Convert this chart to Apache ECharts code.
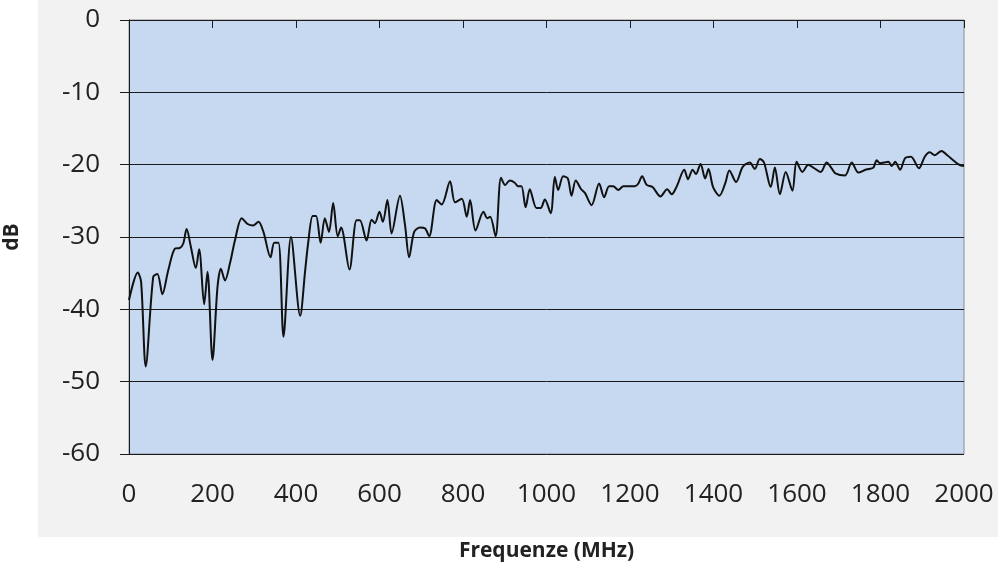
<!DOCTYPE html>
<html>
<head>
<meta charset="utf-8">
<script src="https://cdn.jsdelivr.net/npm/echarts@6/dist/echarts.min.js"></script>
<style>
  html, body { margin: 0; padding: 0; background: #ffffff; }
  #chart { width: 998px; height: 562px; }
</style>
</head>
<body>
<div id="chart"></div>
<script>
// frequenze (MHz) e livelli (dB)
var freq = [0, 21, 29, 40, 58, 68, 80, 94, 110, 122, 130, 138, 148, 160, 168, 180, 188, 200, 212, 220,
  230, 242, 254, 270, 284, 298, 310, 322, 339, 348, 358, 370, 388, 410, 422, 429, 440, 448, 459, 469,
  479, 489, 500, 508, 528, 545, 553, 569, 581, 589, 600, 608, 619, 629, 649, 661, 671, 683, 697, 709,
  719, 737, 749, 769, 781, 797, 809, 817, 830, 849, 858, 865, 878, 891, 901, 912, 924, 932, 940, 950,
  960, 976, 986, 996, 1010, 1020, 1028, 1040, 1051, 1060, 1070, 1083, 1092, 1108, 1126, 1138, 1150, 1160, 1172, 1184,
  1200, 1212, 1220, 1229, 1240, 1254, 1273, 1289, 1300, 1312, 1330, 1339, 1350, 1358, 1369, 1380, 1388, 1399, 1414, 1428,
  1438, 1454, 1470, 1487, 1499, 1511, 1521, 1537, 1547, 1559, 1573, 1589, 1599, 1613, 1627, 1639, 1657, 1671, 1683, 1692,
  1715, 1731, 1747, 1764, 1772, 1783, 1791, 1799, 1809, 1819, 1827, 1835, 1847, 1859, 1873, 1892, 1906, 1918, 1930, 1946,
  1960, 1988, 2000];
var dB = [-38.7, -34.9, -36.2, -47.9, -35.5, -35.1, -37.9, -34.6, -31.6, -31.5, -30.9, -28.9, -31.3, -34.3, -31.7, -39.3, -34.8, -47.0, -36.9, -34.4,
  -36.0, -33.6, -30.4, -27.4, -28.2, -28.4, -27.9, -29.3, -32.8, -30.8, -30.8, -43.8, -30.0, -40.9, -34.6, -30.9, -27.1, -27.1, -30.8, -27.4,
  -29.3, -25.3, -29.9, -28.7, -34.5, -27.7, -27.7, -30.5, -27.6, -28.1, -26.5, -27.9, -24.9, -29.5, -24.3, -28.3, -32.8, -29.3, -28.7, -28.8,
  -29.9, -24.9, -25.5, -22.3, -25.2, -24.7, -27.2, -24.9, -29.1, -26.5, -27.4, -27.2, -29.9, -21.8, -22.8, -22.2, -22.5, -23.0, -23.0, -25.9,
  -23.4, -26.0, -26.0, -24.8, -26.7, -21.7, -23.5, -21.6, -21.9, -24.3, -22.2, -23.4, -23.9, -25.6, -22.6, -24.5, -23.0, -23.0, -23.5, -23.0,
  -23.0, -23.0, -22.6, -21.6, -22.8, -23.1, -24.4, -23.4, -24.1, -23.0, -20.7, -22.0, -20.7, -21.3, -19.9, -21.9, -20.6, -23.1, -24.3, -22.6,
  -20.8, -22.4, -20.3, -19.7, -20.6, -19.2, -19.7, -23.1, -20.4, -24.1, -21.0, -23.6, -19.6, -21.0, -20.0, -20.4, -21.0, -19.7, -20.5, -21.2,
  -21.5, -19.7, -21.1, -20.7, -20.6, -20.4, -19.4, -19.8, -19.7, -19.6, -20.2, -19.6, -20.7, -19.1, -18.9, -20.5, -18.9, -18.3, -18.7, -18.1,
  -18.7, -20.0, -20.2];

var chart = echarts.init(document.getElementById('chart'));
var font = '"Open Sans", "Noto Sans", sans-serif';

var points = freq.map(function (f, i) { return [f, dB[i]]; });

var option = {
  backgroundColor: '#ffffff',
  animation: false,
  graphic: [{
    type: 'rect',
    z: -10,
    shape: { x: 38, y: 0, width: 960, height: 537 },
    style: { fill: '#f2f2f2' }
  }],
  grid: {
    left: 129, right: 34, top: 20, bottom: 108,
    outerBoundsMode: 'none',
    containLabel: false,
    show: true,
    backgroundColor: '#c6d9f0',
    borderColor: '#8a8f96',
    borderWidth: 1
  },
  xAxis: [{
    type: 'value',
    min: 0, max: 2000, interval: 200,
    position: 'bottom',
    name: 'Frequenze (MHz)',
    nameLocation: 'middle',
    nameGap: 87,
    nameTextStyle: { fontFamily: font, fontWeight: 'bold', fontSize: 21, color: '#222' },
    axisLine: { show: true, lineStyle: { color: '#1a1a1a', width: 1 } },
    axisTick: { show: false },
    splitLine: { show: false },
    axisLabel: {
      fontFamily: font, fontSize: 26, color: '#222', margin: 28,
      formatter: function (v) { return String(v); }
    }
  }, {
    type: 'value',
    min: 0, max: 2000, interval: 200,
    position: 'top',
    axisLine: { show: true, lineStyle: { color: '#1a1a1a', width: 1 } },
    axisTick: { show: true, inside: true, length: 8, lineStyle: { color: '#1a1a1a' } },
    axisLabel: { show: false },
    splitLine: { show: false }
  }],
  yAxis: {
    type: 'value',
    min: -60, max: 0, interval: 10,
    name: 'dB',
    nameLocation: 'middle',
    nameRotate: 90,
    nameGap: 106,
    nameTextStyle: { fontFamily: font, fontWeight: 'bold', fontSize: 21, color: '#222' },
    axisLine: { show: true, lineStyle: { color: '#1a1a1a', width: 1 } },
    axisTick: { show: true, length: 9, lineStyle: { color: '#1a1a1a' } },
    splitLine: { show: true, lineStyle: { color: '#1a1a1a', width: 1 } },
    axisLabel: { fontFamily: font, fontSize: 26, color: '#222', margin: 29 }
  },
  series: [{
    type: 'line',
    data: points,
    smooth: 0.3,
    symbol: 'none',
    lineStyle: { color: '#111111', width: 2 }
  }]
};

chart.setOption(option);
window.addEventListener('resize', function () { chart.resize(); });
</script>
</body>
</html>
